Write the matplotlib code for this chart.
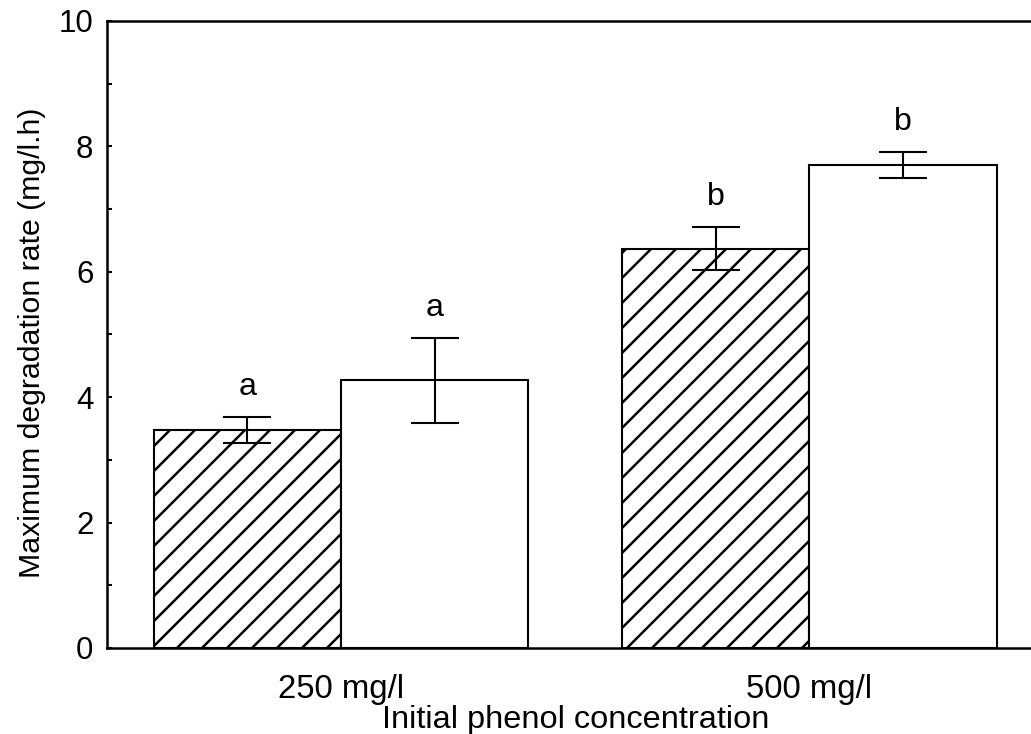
import numpy as np
import matplotlib
matplotlib.use("Agg")
import matplotlib.pyplot as plt
from matplotlib.ticker import MultipleLocator

# values
groups = ["250 mg/l", "500 mg/l"]
hatched_means = [3.48, 6.37]
hatched_err = [0.21, 0.34]
open_means = [4.27, 7.70]
open_err = [0.68, 0.21]
hatched_letters = ["a", "b"]
open_letters = ["a", "b"]

plt.rcParams['font.family'] = ['Liberation Sans', 'DejaVu Sans']
plt.rcParams['hatch.linewidth'] = 1.2

fig = plt.figure(figsize=(1031 / 150, 734 / 150), dpi=150)
ax = fig.add_axes([0.1038, 0.1172, 0.9083, 0.8542])

x = np.arange(len(groups))
width = 0.4
err_style = dict(ecolor='black', elinewidth=1.0, capsize=11.5, capthick=1.0)

ax.bar(x - width / 2, hatched_means, width, yerr=hatched_err,
       color='white', edgecolor='black', linewidth=1.0, hatch='//',
       error_kw=err_style)
ax.bar(x + width / 2, open_means, width, yerr=open_err,
       color='white', edgecolor='black', linewidth=1.0,
       error_kw=err_style)

# significance letters above the error bars
for xi, m, e, lab in zip(x - width / 2, hatched_means, hatched_err, hatched_letters):
    ax.annotate(lab, (xi, m + e), xytext=(0, 10.5), textcoords='offset points',
                ha='center', va='baseline', fontsize=15.5)
for xi, m, e, lab in zip(x + width / 2, open_means, open_err, open_letters):
    ax.annotate(lab, (xi, m + e), xytext=(0, 10.5), textcoords='offset points',
                ha='center', va='baseline', fontsize=15.5)

ax.set_xlim(-0.5, 1.5)
ax.set_ylim(0, 10)
ax.set_xticks(x)
ax.set_xticklabels(groups)
ax.yaxis.set_major_locator(MultipleLocator(2))
ax.yaxis.set_minor_locator(MultipleLocator(1))
ax.tick_params(axis='y', which='both', direction='in', length=2.4, width=1.0,
               labelsize=15, pad=6.5)
ax.tick_params(axis='x', length=0, labelsize=15.8, pad=12.5)
for s in ax.spines.values():
    s.set_linewidth(1.2)

ax.set_xlabel("Initial phenol concentration", fontsize=15.6, labelpad=0)
ax.set_ylabel("Maximum degradation rate (mg/l.h)", fontsize=14.5, labelpad=6)
ax.yaxis.label.set_y(0.487)

fig.savefig("out.png", dpi=150)
